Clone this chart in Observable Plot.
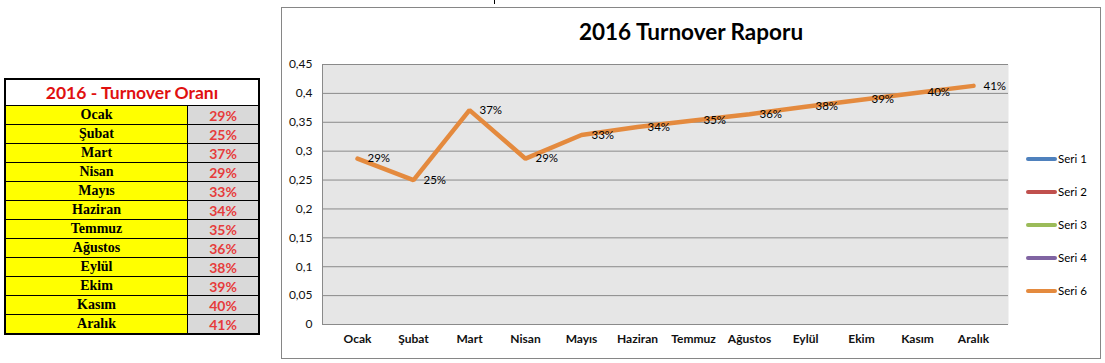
<!DOCTYPE html>
<html>
<head>
<meta charset="utf-8">
<script src="https://cdn.jsdelivr.net/npm/d3@7"></script>
<script src="https://cdn.jsdelivr.net/npm/@observablehq/plot@0.6"></script>
<style>
  body { margin: 0; background: #fff; width: 1105px; height: 363px; position: relative; overflow: hidden; }
  #tbl { position: absolute; left: 4px; top: 78px; width: 256px; height: 257px; box-sizing: border-box;
         border: 2px solid #000; background: #000; display: grid;
         grid-template-columns: 181px 70px; grid-template-rows: 25px repeat(12, 1fr); gap: 1px; }
  #tbl .hd { grid-column: 1 / span 2; background: #fff; color: #e01010; font: bold 17.5px Lato, sans-serif;
             display: flex; align-items: center; justify-content: center; }
  #tbl .m { background: #ffff00; color: #000; font: bold 14px "Liberation Serif", serif;
            display: flex; align-items: center; justify-content: center; }
  #tbl .v { background: #d9d9d9; color: #e63c3c; font: bold 14px Lato, sans-serif;
            display: flex; align-items: center; justify-content: center; }
  #frame { position: absolute; left: 281px; top: 7px; width: 820px; height: 352px; box-sizing: border-box;
           border: 1px solid #868686; background: #fff; }
  #frame svg { position: absolute; left: 0; top: 0; }
  #title { position: absolute; left: 0; top: 13px; width: 100%; text-align: center;
           font: bold 22.5px/22px Lato, sans-serif; color: #000; }
  #legend { position: absolute; left: 744px; top: 134px; }
  #legend .it { height: 33px; display: flex; align-items: center; font: 11.5px Lato, sans-serif; color: #000; }
  #legend .sw { width: 31px; height: 4px; border-radius: 2px; margin-right: 1px; }
  #mark { position: absolute; left: 494px; top: 0; width: 1px; height: 4px; background: #000; }
</style>
</head>
<body>
<div id="mark"></div>
<div id="tbl"></div>
<div id="frame"><div id="title"></div><div id="legend"></div></div>
<script>
const months = ["Ocak","Şubat","Mart","Nisan","Mayıs","Haziran","Temmuz","Ağustos","Eylül","Ekim","Kasım","Aralık"];
const rates = [0.287, 0.25, 0.371, 0.287, 0.328, 0.342, 0.353, 0.364, 0.377, 0.389, 0.401, 0.413];
const yTicks = [0, 0.05, 0.1, 0.15, 0.2, 0.25, 0.3, 0.35, 0.4, 0.45];
const tableTitle = "2016 - Turnover Oranı";
const chartTitle = "2016 Turnover Raporu";
const legendNames = ["Seri 1", "Seri 2", "Seri 3", "Seri 4", "Seri 6"];
const legendColors = ["#4f81bd", "#c0504d", "#9bbb59", "#8064a2", "#e48a3e"];

const pct = v => Math.round(v * 100) + "%";
const data = months.map((m, i) => ({month: m, rate: rates[i]}));

// table
const tbl = document.getElementById("tbl");
const hd = document.createElement("div"); hd.className = "hd"; hd.textContent = tableTitle; tbl.appendChild(hd);
data.forEach(d => {
  const a = document.createElement("div"); a.className = "m"; a.textContent = d.month; tbl.appendChild(a);
  const b = document.createElement("div"); b.className = "v"; b.textContent = pct(d.rate); tbl.appendChild(b);
});

document.getElementById("title").textContent = chartTitle;

const lg = document.getElementById("legend");
legendNames.forEach((n, i) => {
  const it = document.createElement("div"); it.className = "it";
  const sw = document.createElement("div"); sw.className = "sw"; sw.style.background = legendColors[i];
  const tx = document.createElement("span"); tx.textContent = n;
  it.appendChild(sw); it.appendChild(tx); lg.appendChild(it);
});

const chart = Plot.plot({
  width: 818, height: 350,
  marginLeft: 40, marginRight: 92, marginTop: 56, marginBottom: 34,
  style: {fontFamily: "Lato, sans-serif", fontSize: "12px", color: "#000", background: "transparent", overflow: "visible"},
  x: {type: "point", domain: months, padding: 0.54, label: null},
  y: {domain: [0, 0.45], label: null},
  marks: [
    Plot.frame({fill: "#e6e6e6", stroke: null}),
    Plot.ruleY(yTicks, {stroke: "#8a8a8a", strokeWidth: 1}),
    Plot.frame({anchor: "left", stroke: "#8a8a8a"}),
    Plot.axisY({ticks: yTicks, tickSize: 0, tickPadding: 10, tickFormat: d => String(d).replace(".", ","), fontSize: 12, fill: "#111"}),
    Plot.axisX({tickSize: 0, tickPadding: 10, fontWeight: "bold", fontSize: 12, fill: "#111"}),
    Plot.line(data, {x: "month", y: "rate", stroke: legendColors[4], strokeWidth: 4.5, strokeLinecap: "round", strokeLinejoin: "miter"}),
    Plot.text(data, {x: "month", y: "rate", text: d => pct(d.rate), dx: 10, textAnchor: "start", fontSize: 11.5, fill: "#000"})
  ]
});
document.getElementById("frame").appendChild(chart);
</script>
</body>
</html>
